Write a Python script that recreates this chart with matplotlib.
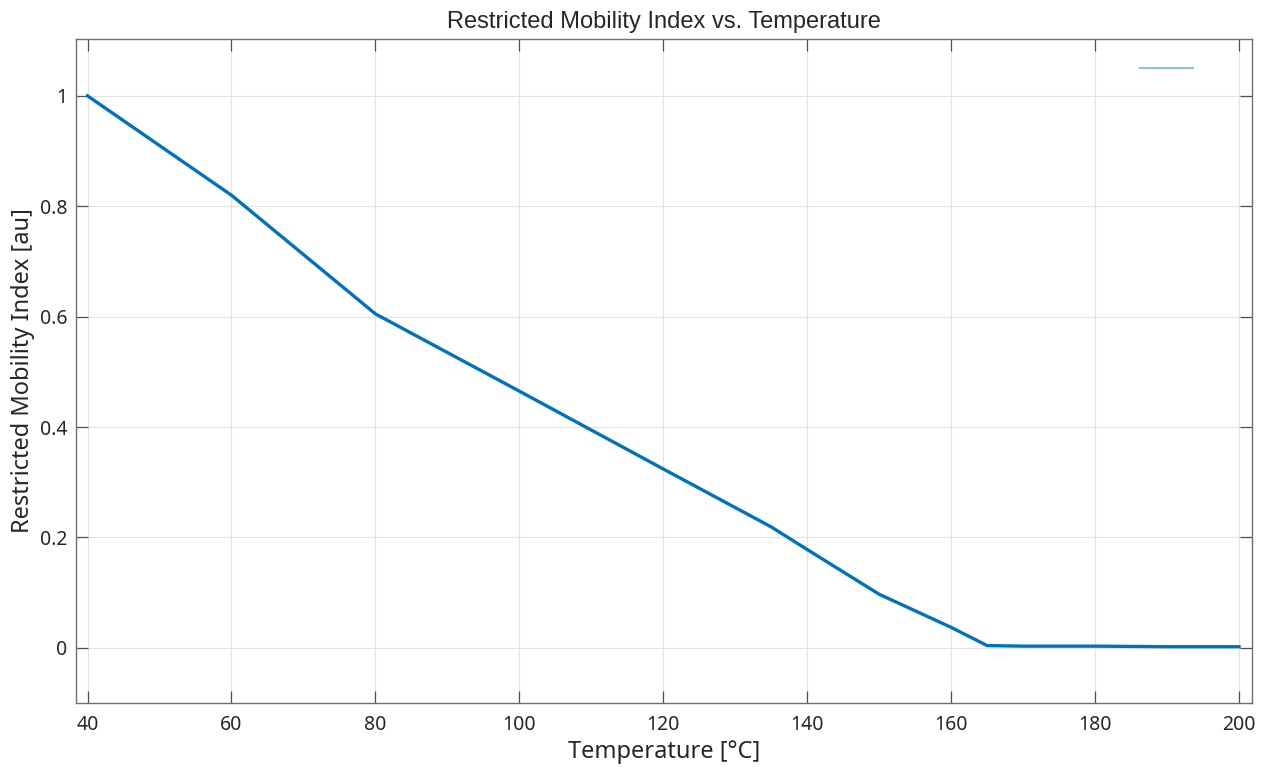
import matplotlib.pyplot as plt
import matplotlib

matplotlib.use('Agg')

temperature = [40, 60, 80, 100, 120, 135, 140, 150, 160, 165, 170, 180, 190, 200]
mobility = [1.0, 0.82, 0.605, 0.465, 0.324, 0.219, 0.178, 0.097, 0.037, 0.004, 0.003, 0.003, 0.002, 0.002]
x_ticks = [40, 60, 80, 100, 120, 140, 160, 180, 200]
y_ticks = [0, 0.2, 0.4, 0.6, 0.8, 1]
y_labels = ['0', '0.2', '0.4', '0.6', '0.8', '1']

plt.rcParams['font.family'] = ['Noto Sans', 'DejaVu Sans']

fig = plt.figure(figsize=(12.66, 7.67), dpi=100)
ax = fig.add_axes([76 / 1266, 1 - 703 / 767, (1252 - 76) / 1266, (703 - 39) / 767])

ax.plot(temperature, mobility, color='#0072BD', linewidth=2.4, label=' ')

ax.set_xlim(38.4, 201.8)
ax.set_ylim(-0.1, 1.103)
ax.set_xticks(x_ticks)
ax.set_yticks(y_ticks)
ax.set_yticklabels(y_labels)

ax.grid(True, color='#e3e3e3', linewidth=0.8)
ax.set_axisbelow(True)
for s in ax.spines.values():
    s.set_color('#707070')
    s.set_linewidth(1.0)
ax.tick_params(direction='in', length=8.5, width=0.9, color='#505050', labelcolor='#262626',
               labelsize=14, top=True, right=True)
ax.tick_params(axis='x', pad=9)
ax.tick_params(axis='y', pad=6)

ax.set_xlabel('Temperature [°C]', fontsize=17, color='#262626', labelpad=3)
ax.set_ylabel('Restricted Mobility Index [au]', fontsize=17, color='#262626', labelpad=4)
ax.set_title('Restricted Mobility Index vs. Temperature', fontsize=17, family='Liberation Sans',
             color='#262626', pad=8)

leg = ax.legend(loc='upper right', frameon=False, handlelength=3.8, bbox_to_anchor=(0.973, 0.985))
for h in leg.get_lines():
    h.set_color('#8ec1e6')
    h.set_linewidth(1.5)

fig.savefig('out.png', dpi=100)
